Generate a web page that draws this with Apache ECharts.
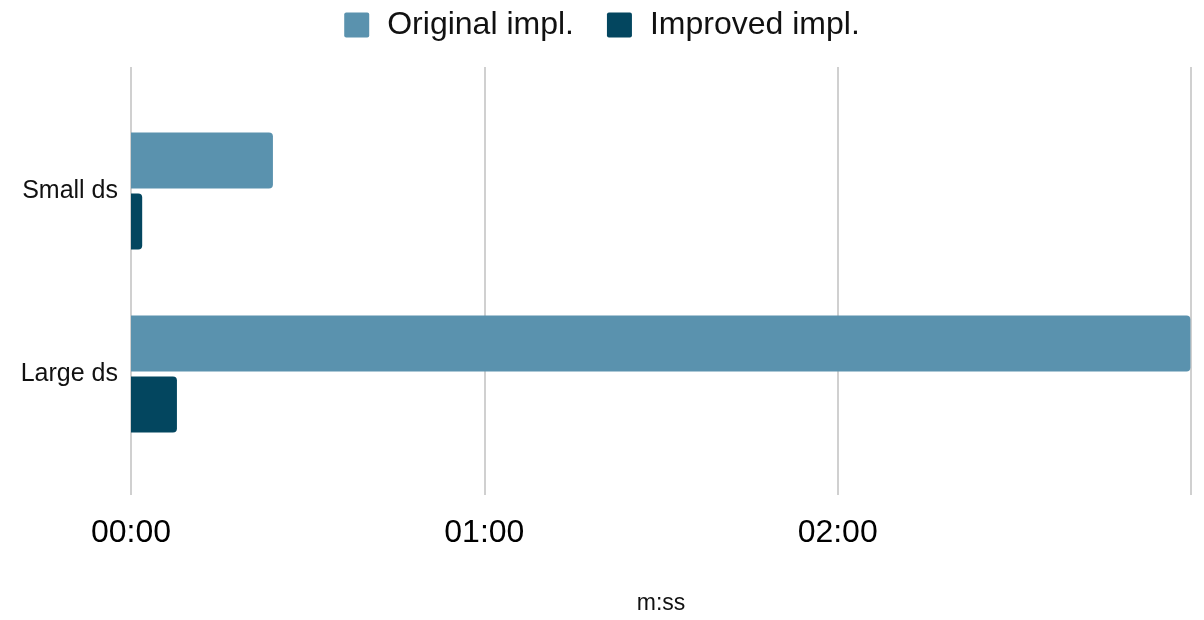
<!DOCTYPE html>
<html>
<head>
<meta charset="utf-8">
<script src="https://cdn.jsdelivr.net/npm/echarts@6/dist/echarts.min.js"></script>
<style>
html,body{margin:0;padding:0;background:#fff;}
#c{width:1204px;height:620px;}
</style>
</head>
<body>
<div id="c"></div>
<script>
// Data (seconds)
const categories = ['Small ds', 'Large ds'];
const seriesNames = ['Original impl.', 'Improved impl.'];
const originalValues = [24.1, 179.9];
const improvedValues = [1.9, 7.8];
const tickValues = [0, 60, 120, 180];

const FONT = '"Liberation Sans", Arial, sans-serif';
function fmt(v) {
  if (v >= 180) return '';
  const m = Math.floor(v / 60), s = Math.round(v % 60);
  return String(m).padStart(2, '0') + ':' + String(s).padStart(2, '0');
}

const chart = echarts.init(document.getElementById('c'));
chart.setOption({
  backgroundColor: '#ffffff',
  animation: false,
  textStyle: { fontFamily: FONT },
  legend: {
    top: 4,
    left: 'center',
    itemWidth: 25,
    itemHeight: 25,
    itemGap: 33,
    icon: 'path://M2,0 L23,0 Q25,0 25,2 L25,23 Q25,25 23,25 L2,25 Q0,25 0,23 L0,2 Q0,0 2,0 Z',
    data: seriesNames,
    textStyle: { fontSize: 32, color: '#111', fontFamily: FONT, padding: [0, 0, 0, 13] }
  },
  grid: [
    { left: 131, right: 13, top: 99.5, bottom: 154.5 },
    { left: 131, right: 13, top: 67, bottom: 125 }
  ],
  xAxis: [
    { gridIndex: 0, type: 'value', min: tickValues[0], max: tickValues[tickValues.length - 1], interval: 60, show: false },
    {
      gridIndex: 1, type: 'value', min: tickValues[0], max: tickValues[tickValues.length - 1], interval: 60,
      axisLine: { show: false }, axisTick: { show: false },
      splitLine: { show: true, lineStyle: { color: '#d0d0d0', width: 2 } },
      axisLabel: { formatter: fmt, fontSize: 32, color: '#000', margin: 22, fontFamily: FONT },
      name: 'm:ss', nameLocation: 'middle', nameGap: 97,
      nameTextStyle: { fontSize: 23, color: '#111', fontFamily: FONT }
    }
  ],
  yAxis: [
    {
      gridIndex: 0, type: 'category', data: categories, inverse: true,
      axisLine: { show: false }, axisTick: { show: false },
      axisLabel: { fontSize: 25, color: '#111', margin: 13, fontFamily: FONT }
    },
    { gridIndex: 1, type: 'value', show: false, min: 0, max: 1 }
  ],
  series: [
    {
      name: seriesNames[0], type: 'bar', xAxisIndex: 0, yAxisIndex: 0,
      data: originalValues, barWidth: 56, barGap: '9%',
      itemStyle: { color: '#5a92ae', borderRadius: [0, 4, 4, 0] }
    },
    {
      name: seriesNames[1], type: 'bar', xAxisIndex: 0, yAxisIndex: 0,
      data: improvedValues, barWidth: 56, barGap: '9%',
      itemStyle: { color: '#03465f', borderRadius: [0, 4, 4, 0] }
    }
  ]
});
</script>
</body>
</html>
